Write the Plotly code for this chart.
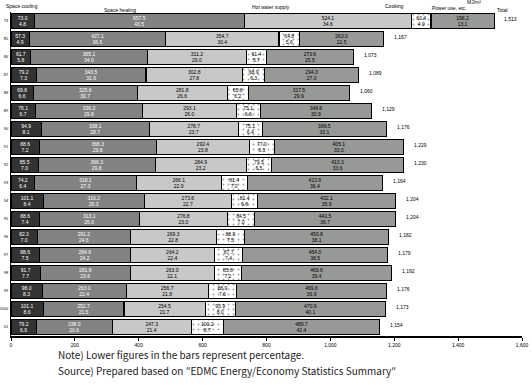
import plotly.graph_objects as go

years = ["73", "85", "86", "87", "88", "89", "90", "91", "92", "93", "94", "95", "96", "97", "98", "99", "2000", "01"]
cooling = [73.0, 57.3, 61.7, 79.2, 69.8, 76.1, 94.9, 88.6, 85.5, 74.2, 101.1, 88.6, 82.3, 88.6, 91.7, 98.0, 101.1, 79.2]
heating = [657.5, 427.1, 365.1, 343.5, 325.6, 336.3, 338.1, 366.3, 366.3, 318.1, 316.2, 313.1, 291.2, 284.9, 281.8, 263.0, 252.7, 238.0]
hot_water = [524.1, 354.7, 311.2, 302.8, 281.8, 293.1, 278.7, 292.4, 284.9, 266.1, 273.6, 276.8, 269.3, 264.2, 263.0, 256.7, 254.5, 247.3]
cooking = [60.4, 64.8, 61.4, 68.9, 65.8, 75.1, 75.1, 77.0, 79.5, 81.4, 81.4, 84.5, 88.9, 87.7, 85.8, 88.9, 93.9, 100.2]
power = [198.2, 263.0, 273.6, 294.3, 317.5, 348.8, 389.5, 405.1, 413.3, 423.9, 432.1, 441.5, 450.8, 454.0, 469.6, 469.6, 470.9, 489.7]
series_names = ["Space cooling", "Space heating", "Hot water supply", "Cooking", "Power use, etc."]
x_ticks = [0, 200, 400, 600, 800, 1000, 1200, 1400, 1600]
x_tick_labels = ["0", "200", "400", "600", "800", "1,000", "1,200", "1,400", "1,600"]

series = [cooling, heating, hot_water, cooking, power]
totals = [sum(v) for v in zip(*series)]
rows = list(range(len(years)))

fills = ["#333333", "#828282", "#c8c8c8", "#ffffff", "#979997"]
text_colors = ["white", "white", "black", "black", "black"]

fig = go.Figure()
for i, (name, vals) in enumerate(zip(series_names, series)):
    labels = [f"{v:.1f}<br>{v / t * 100:.1f}" for v, t in zip(vals, totals)]
    marker = dict(color=fills[i], line=dict(color="black", width=1.3))
    if i == 3:
        marker["pattern"] = dict(shape=".", fgcolor="#444444", bgcolor="white", size=5, solidity=0.12)
    fig.add_trace(go.Bar(
        y=rows, x=vals, orientation="h", name=name,
        marker=marker, text=labels, textposition="inside", textangle=0,
        insidetextanchor="middle", constraintext="none",
        textfont=dict(size=5, color=text_colors[i], family="Arial"),
        hoverinfo="skip",
    ))

annotations = []
for r, t in zip(rows, totals):
    annotations.append(dict(x=t, y=r, xref="x", yref="y", text=f"{t:,.0f}",
                            showarrow=False, xanchor="left", xshift=8, yshift=2,
                            font=dict(size=5, color="black", family="Arial")))

headers = [("Space cooling", 0.021, 1.018), ("Space heating", 0.213, 1.006),
           ("Hot water supply", 0.508, 1.015), ("Cooking", 0.751, 1.018),
           ("Power use, etc.", 0.857, 1.012), ("MJ/m²", 0.906, 1.030), ("Total", 0.962, 1.006)]
for txt, xp, yp in headers:
    annotations.append(dict(x=xp, y=yp, xref="paper", yref="paper", text=txt, showarrow=False,
                            xanchor="center", yanchor="middle", borderpad=0,
                            font=dict(size=5, color="black", family="Arial")))

W, H = 532, 385
ml, mr, mt, mb = 11, 10, 12, 48.5
pw, ph = W - ml - mr, H - mt - mb

notes = [("Note) Lower figures in the bars represent percentage.", 57, 355),
         ("Source) Prepared based on ″EDMC Energy/Economy Statistics Summary″", 57, 371)]
for txt, px, py in notes:
    annotations.append(dict(x=(px - ml) / pw, y=1 - (py - mt) / ph, xref="paper", yref="paper",
                            text=txt, showarrow=False, xanchor="left", yanchor="middle", borderpad=0,
                            font=dict(size=10, color="#222222", family="Noto Sans CJK JP")))

fig.update_layout(
    width=W, height=H, barmode="stack", bargap=0.17,
    margin=dict(l=ml, r=mr, t=mt, b=mb, pad=0),
    plot_bgcolor="white", paper_bgcolor="white",
    showlegend=False, annotations=annotations, hovermode=False,
    xaxis=dict(range=[0, 1600], tickvals=x_ticks, ticktext=x_tick_labels, automargin=False,
               showgrid=False, zeroline=False, showline=True, linecolor="black", linewidth=1.5,
               ticks="outside", ticklen=3, tickcolor="black",
               tickfont=dict(size=5, color="black", family="Arial")),
    yaxis=dict(range=[len(years) - 0.5, -0.5], tickvals=rows, ticktext=years, automargin=False,
               showgrid=False, zeroline=False, showline=True,
               linecolor="black", linewidth=1,
               ticks="", tickfont=dict(size=4, color="black", family="Arial"), ticklabelstandoff=1),
)

fig.write_html("out.html", config={"displayModeBar": False, "staticPlot": True},
               post_script="document.body.style.margin='0';document.body.style.overflow='hidden';")
